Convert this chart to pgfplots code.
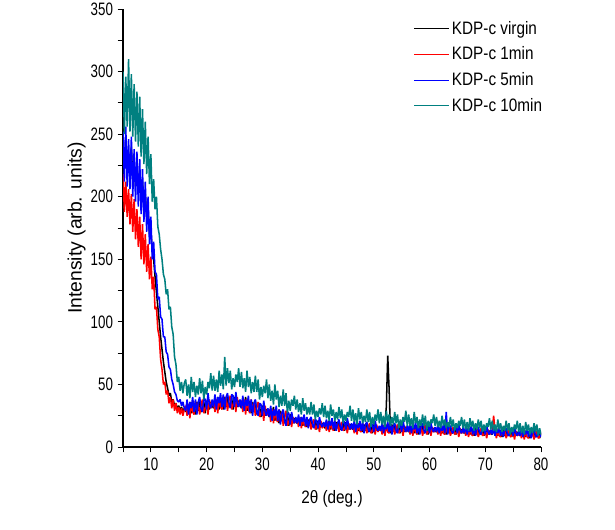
\documentclass[border=0pt]{standalone}
\usepackage{fontspec}
\setmainfont{Liberation Sans}[FakeStretch=0.85]
\newfontfamily\tickfont{Liberation Sans}[FakeStretch=0.74]
\newfontfamily\ylabfont{Liberation Sans}
\usepackage{pgfplots}
\usepackage{pgfplotstable}
\pgfplotsset{compat=1.18}
\definecolor{tealc}{RGB}{0,128,128}
\definecolor{bluec}{RGB}{0,0,255}
\definecolor{redc}{RGB}{255,0,0}
\pgfplotstableread{
x k r b g
5.00 242 218 252 300
5.25 225 188 212 250
5.50 248 212 256 296
5.75 222 184 208 256
6.00 236 206 246 310
6.25 220 178 206 252
6.50 240 202 248 298
6.75 214 172 200 248
7.00 228 198 238 290
7.25 208 166 196 244
7.50 226 190 236 284
7.75 204 160 192 240
8.00 220 184 230 280
8.25 198 150 186 232
8.50 212 178 222 270
8.75 192 146 180 226
9.00 202 170 212 260
9.25 184 140 172 218
9.50 190 162 200 248
9.75 170 134 162 210
10.00 174 152 184 234
10.25 156 126 150 196
10.50 150 136 164 214
10.75 136 110 140 190
11.00 124 112 138 200
11.25 112 94 118 176
11.50 100 88 120 170
11.75 88 70 104 158
12.00 78 62 102 150
12.25 68 50 88 138
12.50 60 52 88 134
12.75 52 42 76 122
13.00 47 45 74 126
13.25 41 35 64 110
13.50 43 40 62 112
13.75 36 31 54 96
14.00 38 38 50 90
14.25 33 29 44 72
14.50 35 35 42 66
14.75 30 27 37 52
15.00 33 32 36 56
15.25 29 26 38 45
15.50 32 31 33 52
15.75 28 25 36 43
16.00 31 30 31 51
16.25 28 33 29 54
16.50 35 25 38 41
16.75 29 34 26 50
17.00 36 23 36 39
17.25 27 36 31 56
17.50 34 28 40 44
17.75 33 26 28 52
18.00 26 37 38 40
18.25 36 28 26 49
18.50 29 35 36 42
18.75 38 26 40 55
19.00 28 33 31 43
19.25 30 38 28 53
19.50 36 27 39 38
19.75 27 31 38 48
20.00 37 35 30 42
20.25 34 26 43 52
20.50 30 38 34 47
20.75 36 31 31 59
21.00 33 34 38 45
21.25 31 36 32 57
21.50 39 28 42 45
21.75 32 38 30 54
22.00 40 27 40 44
22.25 30 39 35 61
22.50 38 32 43 49
22.75 37 30 32 58
23.00 30 41 42 46
23.25 40 31 30 72
23.50 32 39 40 49
23.75 41 29 43 63
24.00 32 37 35 51
24.25 34 41 31 61
24.50 39 30 42 46
24.75 30 34 41 55
25.00 40 38 32 48
25.25 36 28 44 58
25.50 32 40 35 52
25.75 37 32 32 63
26.00 34 35 38 48
26.25 31 37 31 60
26.50 39 28 41 47
26.75 32 38 29 55
27.00 40 26 38 44
27.25 29 38 33 61
27.50 37 30 41 48
27.75 35 27 28 56
28.00 27 38 38 43
28.25 36 28 25 52
28.50 28 35 35 44
28.75 37 25 38 57
29.00 26 32 28 44
29.25 28 36 25 54
29.50 33 24 35 38
29.75 24 27 34 48
30.00 33 31 25 40
30.25 30 21 37 49
30.50 25 33 28 43
30.75 30 25 25 54
31.00 27 28 31 39
31.25 24 30 24 50
31.50 31 20 33 37
31.75 25 30 21 45
32.00 32 19 30 34
32.25 21 30 25 50
32.50 29 22 33 38
32.75 27 20 21 45
33.00 19 30 30 32
33.25 29 20 18 41
33.50 21 28 27 33
33.75 29 17 30 46
34.00 19 24 21 33
34.25 21 29 17 43
34.50 26 17 28 27
34.75 17 20 27 37
35.00 26 24 18 29
35.25 23 16 28 38
35.50 19 24 22 33
35.75 23 19 19 41
36.00 20 21 24 30
36.25 19 22 19 38
36.50 24 16 26 28
36.75 19 23 17 35
37.00 24 15 24 26
37.25 17 23 20 39
37.50 22 18 26 29
37.75 21 16 17 35
38.00 16 23 24 26
38.25 22 16 15 32
38.50 17 21 22 26
38.75 23 14 24 36
39.00 16 19 18 26
39.25 17 22 15 34
39.50 21 14 22 22
39.75 14 16 21 29
40.00 21 19 15 24
40.25 19 12 24 31
40.50 16 21 18 26
40.75 19 15 16 35
41.00 17 17 20 24
41.25 15 19 16 33
41.50 21 13 22 23
41.75 16 20 14 29
42.00 21 12 21 21
42.25 14 20 17 34
42.50 20 15 23 25
42.75 19 13 14 30
43.00 13 21 21 21
43.25 20 14 13 28
43.50 15 19 19 22
43.75 21 12 22 32
44.00 14 17 16 23
44.25 15 20 13 30
44.50 19 13 21 19
44.75 13 15 20 26
45.00 20 18 14 21
45.25 17 11 23 28
45.50 14 19 17 24
45.75 18 14 14 33
46.00 15 16 19 21
46.25 14 17 14 30
46.50 19 11 21 20
46.75 14 18 12 27
47.00 20 10 19 18
47.25 13 19 15 31
47.50 18 13 21 22
47.75 17 12 13 28
48.00 12 19 20 19
48.25 18 12 11 25
48.50 13 17 18 20
48.75 19 11 20 30
49.00 12 16 14 20
49.25 14 19 12 28
49.50 17 11 19 16
49.75 11 13 18 24
50.00 18 16 12 18
50.25 16 10 21 26
50.50 13 18 15 21
50.75 16 12 13 30
51.00 14 15 17 19
51.25 13 16 13 28
51.50 18 10 20 18
51.75 13 17 11 25
52.00 19 9 18 16
52.25 32 18 14 29
52.50 73 12 20 20
52.75 46 11 12 26
53.00 11 18 19 17
53.25 18 11 10 24
53.50 12 17 17 18
53.75 18 10 19 28
54.00 12 15 13 19
54.25 13 18 11 26
54.50 17 11 19 15
54.75 11 13 18 22
55.00 18 16 12 17
55.25 15 9 21 24
55.50 12 17 15 20
55.75 16 12 12 29
56.00 14 14 17 17
56.25 12 16 12 26
56.50 17 10 19 17
56.75 13 16 11 23
57.00 18 9 18 15
57.25 11 17 14 28
57.50 16 12 20 19
57.75 16 10 11 24
58.00 10 18 18 15
58.25 17 11 10 22
58.50 12 16 17 17
58.75 18 9 19 26
59.00 11 15 13 17
59.25 13 18 11 25
59.50 16 10 18 13
59.75 10 12 17 21
60.00 17 15 11 16
60.25 15 9 19 22
60.50 12 16 14 19
60.75 15 12 12 26
61.00 13 13 16 17
61.25 12 15 12 24
61.50 16 10 18 16
61.75 12 15 11 21
62.00 17 9 16 15
62.25 11 16 13 25
62.50 15 11 18 17
62.75 15 10 11 22
63.00 10 16 28 15
63.25 16 11 10 20
63.50 11 15 16 16
63.75 16 9 17 24
64.00 11 13 12 16
64.25 12 16 11 22
64.50 15 10 16 13
64.75 10 11 16 19
65.00 15 14 11 15
65.25 14 8 18 21
65.50 11 15 13 17
65.75 14 11 11 24
66.00 12 12 15 15
66.25 11 14 11 22
66.50 15 9 17 14
66.75 11 14 10 20
67.00 16 8 15 13
67.25 10 15 12 23
67.50 14 10 17 16
67.75 14 9 10 21
68.00 9 15 16 13
68.25 15 10 9 19
68.50 10 14 15 14
68.75 15 8 16 22
69.00 10 12 11 15
69.25 11 15 10 21
69.50 14 9 16 12
69.75 9 10 15 18
70.00 14 13 10 13
70.25 13 7 17 19
70.50 10 14 12 16
70.75 13 10 10 23
71.00 11 11 14 14
71.25 10 13 10 21
71.50 14 25 16 13
71.75 10 13 9 18
72.00 15 7 14 12
72.25 9 14 11 22
72.50 13 9 16 14
72.75 13 8 9 19
73.00 8 14 15 12
73.25 14 9 8 17
73.50 9 13 14 13
73.75 14 7 15 21
74.00 9 11 10 13
74.25 10 14 9 19
74.50 13 8 14 10
74.75 8 9 14 16
75.00 13 12 9 12
75.25 12 6 16 18
75.50 9 13 11 14
75.75 12 9 9 21
76.00 10 10 13 12
76.25 9 12 9 19
76.50 13 7 15 11
76.75 9 12 8 17
77.00 14 6 13 10
77.25 8 13 10 20
77.50 12 8 15 13
77.75 12 7 8 18
78.00 7 13 14 10
78.25 13 8 7 16
78.50 9 12 13 11
78.75 13 6 14 19
79.00 8 10 9 12
79.25 9 13 8 18
79.50 12 7 13 9
79.75 7 8 13 15
80.00 12 11 8 10
}\data
\begin{document}
\begin{tikzpicture}
\path[use as bounding box] (0pt,0pt) rectangle (461.25pt,397.5pt);
\begin{axis}[
  at={(92.25pt,62.25pt)}, anchor=south west,
  scale only axis, width=313.5pt, height=328.5pt,
  xmin=5, xmax=80, ymin=0, ymax=350,
  axis lines*=left, axis line style={-, black, line width=0.8pt},
  tick align=outside, major tick length=4pt, minor tick length=4pt,
  every tick/.style={black, line width=0.6pt},
  xtick={10,20,...,80}, minor xtick={5,15,...,75},
  ytick={0,50,...,350}, minor ytick={25,75,...,325},
  /pgf/number format/assume math mode=true,
  ticklabel style={font=\tickfont\fontsize{13.5}{14}\selectfont},
  xticklabel style={yshift=-1pt},
  xlabel={2θ (deg.)},
  ylabel={\ylabfont Intensity (arb. units)},
  label style={font=\fontsize{13.5}{14}\selectfont},
  ylabel style={font=\fontsize{14.5}{15}\selectfont, yshift=-3pt},
  xlabel style={yshift=-8pt},
  legend style={at={(0.685,0.985)}, anchor=north west, draw=none, fill=none,
    font=\fontsize{13.5}{14}\selectfont, row sep=4pt},
  legend cell align=left,
  legend image code/.code={\draw[#1, line width=0.8pt] (0pt,0pt) -- (26pt,0pt);},
  every axis plot/.append style={line width=1.15pt, line join=bevel},
]
\addplot[black] table[x=x, y=k] {\data};
\addlegendentry{KDP-c virgin}
\addplot[redc] table[x=x, y=r] {\data};
\addlegendentry{KDP-c 1min}
\addplot[bluec] table[x=x, y=b] {\data};
\addlegendentry{KDP-c 5min}
\addplot[tealc] table[x=x, y=g] {\data};
\addlegendentry{KDP-c 10min}
\end{axis}
\end{tikzpicture}
\end{document}
